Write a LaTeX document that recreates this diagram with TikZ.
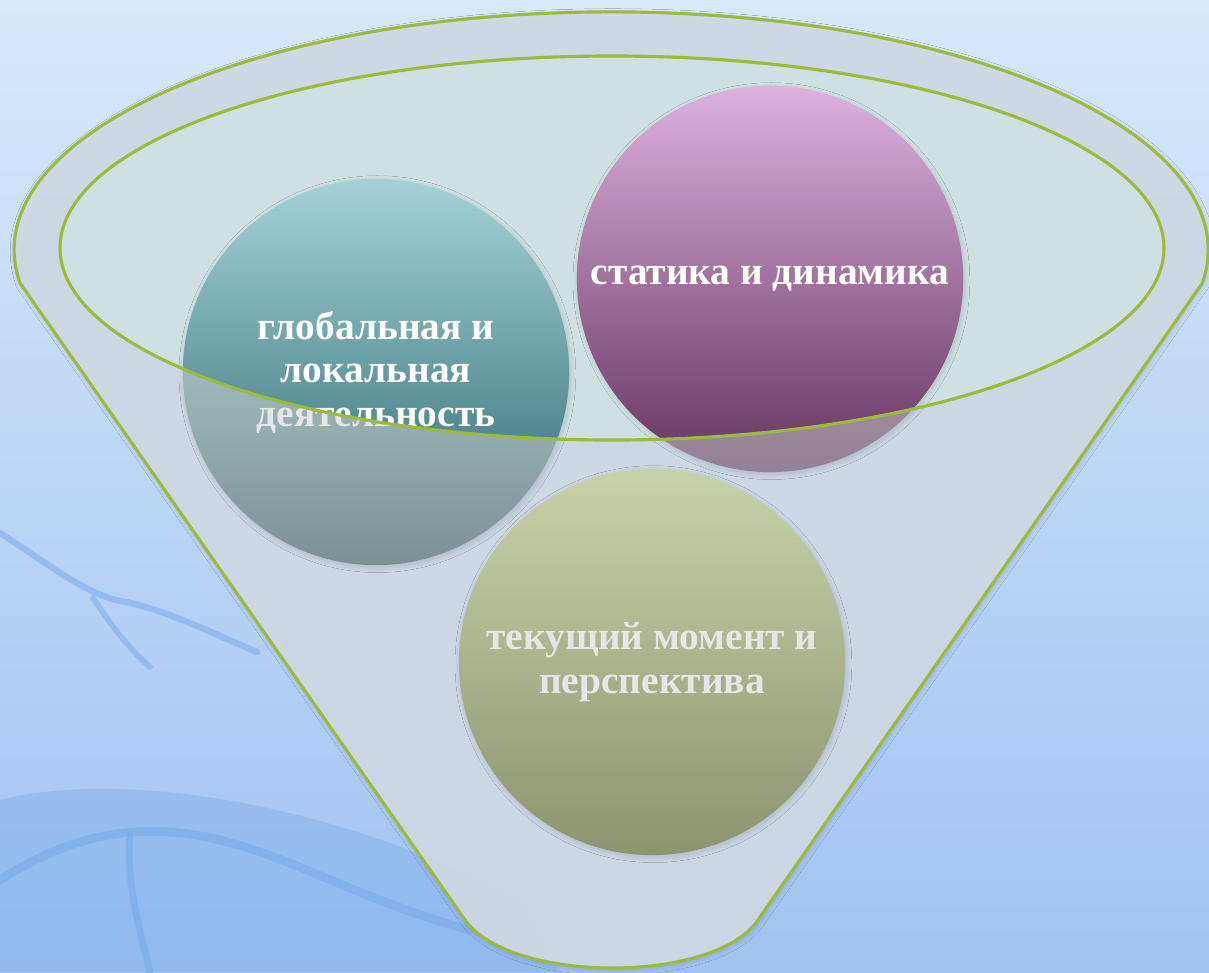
\documentclass[tikz,border=0pt]{standalone}
\usepackage{fontspec}
\setmainfont{Liberation Serif}
\usepackage{xcolor}
\usepackage{tikz}
\usetikzlibrary{shapes,positioning,shadows.blur,calc,backgrounds}

\definecolor{skytop}{RGB}{216,232,250}
\definecolor{skybottom}{RGB}{160,195,242}
\definecolor{branchblue}{RGB}{118,168,232}
\definecolor{funnelgreen}{RGB}{155,187,58}
\definecolor{funnelgray}{RGB}{208,218,230}
\definecolor{rimgray}{RGB}{207,224,226}
\definecolor{dimtext}{RGB}{230,230,230}

\tikzset{
    ball/.style={circle, inner sep=0pt, minimum size=3.86cm, align=center,
        font=\bfseries\fontsize{11.2}{12.4}\selectfont},
    softshadow/.style={blur shadow={shadow xshift=0.4pt, shadow yshift=-0.6pt,
        shadow blur radius=1.5pt, shadow blur steps=8, shadow opacity=14}},
    branch/.style={draw=branchblue, line cap=round, line join=round, opacity=0.5},
    funnelline/.style={draw=funnelgreen, line width=0.9pt}
}

\begin{document}
\begin{tikzpicture}[x=0.01cm, y=-0.01cm]
    \path[use as bounding box] (0,0) rectangle (1209,972);
    % sky
    \fill[top color=skytop, bottom color=skybottom] (0,0) rectangle (1209,972);
    % branches behind the funnel
    \fill[branchblue, opacity=0.35] (0,800) .. controls (120,770) and (330,800) .. (520,900)
        -- (560,972) -- (0,972) -- cycle;
    \draw[branch, line width=1.8pt] (0,533) .. controls (50,565) and (90,598) .. (127,602)
        .. controls (170,612) and (210,632) .. (257,652);
    \draw[branch, line width=1.6pt] (93,598) .. controls (105,615) and (120,640) .. (150,667);
    \draw[branch, line width=2.5pt] (0,880) .. controls (70,835) and (140,820) .. (220,840)
        .. controls (300,860) and (360,900) .. (470,930);
    \draw[branch, line width=2pt] (130,835) .. controls (125,880) and (140,930) .. (150,972);

    % funnel body
    \fill[
        funnelgray,
        fill opacity=0.92,
        softshadow
    ] (20,283) arc[start angle=172, end angle=368, x radius=597, y radius=238]
        -- (760,917) .. controls (720,985) and (505,985) .. (463,917) -- cycle;
    \fill[rimgray] (612,248) ellipse [x radius=552, y radius=192];

    % circles, seen through the funnel wall
    \node[ball, top color={rgb,255:red,188;green,225;blue,229},
        bottom color={rgb,255:red,125;green,145;blue,147}, text=dimtext, softshadow]
        (global-dim) at (376,372) {глобальная и\\локальная\\деятельность};
    \node[ball, top color={rgb,255:red,200;green,180;blue,200},
        bottom color={rgb,255:red,148;green,130;blue,148}, text=dimtext, softshadow]
        (statics-dim) at (770,279) {статика и динамика};
    \node[ball, top color={rgb,255:red,200;green,210;blue,168},
        middle color={rgb,255:red,172;green,183;blue,140},
        bottom color={rgb,255:red,140;green,148;blue,112}, text=dimtext, softshadow]
        (current) at (652,662) {текущий момент и\\перспектива};

    % circles inside the mouth
    \begin{scope}
        \clip (612,248) ellipse [x radius=552, y radius=192];
        \node[ball, top color={rgb,255:red,165;green,210;blue,216},
            middle color={rgb,255:red,96;green,164;blue,174},
            bottom color={rgb,255:red,40;green,100;blue,108}, text=white]
            (global) at (376,372) {глобальная и\\локальная\\деятельность};
        \node[ball, top color={rgb,255:red,222;green,178;blue,222},
            middle color={rgb,255:red,180;green,116;blue,178},
            bottom color={rgb,255:red,101;green,51;blue,95}, text=white]
            (statics) at (770,279) {статика и динамика};
    \end{scope}

    % outlines
    \draw[funnelline] (612,248) ellipse [x radius=552, y radius=192];
    \draw[funnelline] (20,283) arc[start angle=172, end angle=368, x radius=597, y radius=238]
        -- (760,917) .. controls (720,985) and (505,985) .. (463,917) -- cycle;
\end{tikzpicture}
\end{document}
